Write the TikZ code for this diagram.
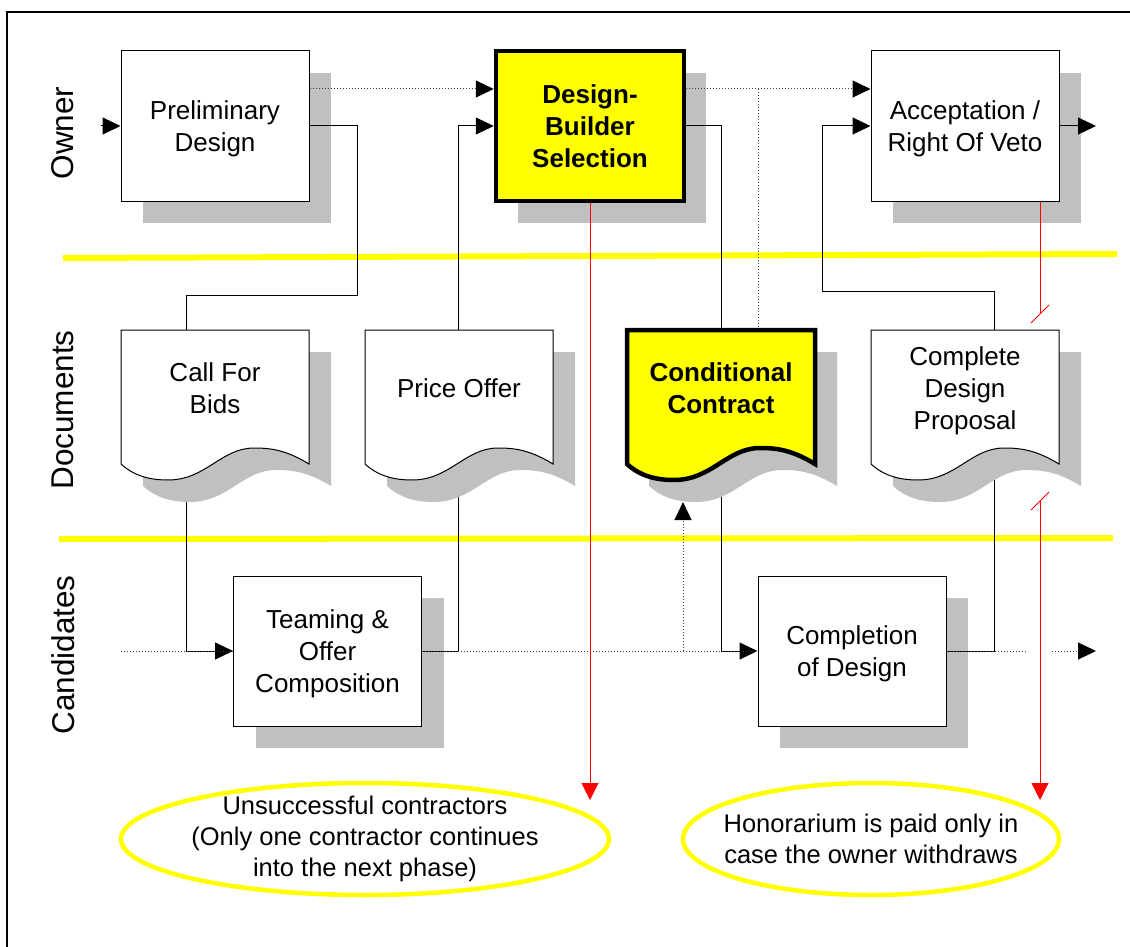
\documentclass[tikz,border=0pt]{standalone}
\usepackage{fontspec}
\setmainfont{Liberation Sans}
\usetikzlibrary{arrows.meta,shapes.geometric,calc}

\definecolor{shadegray}{RGB}{192,192,192}
\definecolor{hiyellow}{RGB}{255,255,0}

\pgfdeclarelayer{lanes}
\pgfdeclarelayer{shade}
\pgfdeclarelayer{docs}
\pgfdeclarelayer{front}
\pgfsetlayers{lanes,shade,main,docs,front}

\newcommand\boxfont{\fontsize{26}{32}\selectfont}

\tikzset{
  box/.style={draw=black, fill=white, line width=1pt, minimum width=188pt,
    minimum height=150pt, inner sep=0pt, align=center, font=\boxfont,
    text depth=0pt},
  keybox/.style={box, fill=hiyellow, line width=4.5pt, font=\boxfont\bfseries},
  doctext/.style={inner sep=0pt, outer sep=0pt, minimum width=188pt,
    minimum height=116pt, align=center, font=\boxfont, text depth=0pt},
  docline/.style={draw=black, fill=white, line width=1pt},
  keydoc/.style={draw=black, fill=hiyellow, line width=4.5pt},
  flow/.style={draw=black, line width=1pt},
  maybe/.style={draw=black!75, line width=1pt, dash pattern=on 1pt off 2pt},
  tip/.style={-{Triangle[length=18pt,width=17pt,color=black]}},
  note/.style={draw=red, line width=1pt, -{Triangle[length=17pt,width=17pt,color=red]}},
  lane/.style={draw=hiyellow, line width=6pt},
  lanelabel/.style={rotate=90, font=\fontsize{31.5}{31.5}\selectfont},
  remark/.style={ellipse, draw=hiyellow, line width=4.5pt, inner sep=0pt},
  remarktext/.style={align=center, font=\fontsize{25.5}{31}\selectfont, inner sep=0pt},
}

% grey offset shadow behind a process box
\newcommand\boxshade[1]{%
  \fill[shadegray] ($(#1.center)+(-72,-53)$) rectangle ($(#1.center)+(116,97)$);}

% document symbol (wavy lower edge) with its shadow, placed from the text node
\newcommand\docoutline[2]{%
  \fill[shadegray, shift={(#1.north west)}, xshift=22pt, yshift=-22pt]
    (0,0) -- (188,0) -- (188,134)
    .. controls (165,120) and (150,118) .. (133,118)
    .. controls (100,118) and (85,150) .. (47,150)
    .. controls (27,150) and (12,145) .. (0,134) -- cycle;
  \path[#2, shift={(#1.north west)}]
    (0,0) -- (188,0) -- (188,134)
    .. controls (165,120) and (150,118) .. (133,118)
    .. controls (100,118) and (85,150) .. (47,150)
    .. controls (27,150) and (12,145) .. (0,134) -- cycle;}

\begin{document}
\begin{tikzpicture}[x=1pt, y=-1pt]
\useasboundingbox (0,0) rectangle (1130,947);

% frame and swim-lane separators
\begin{pgfonlayer}{lanes}
  \draw[line width=2.2pt] (7,965) -- (7,12) -- (1145,12);
  \draw[lane] (63,258) -- (1117,254);
  \draw[lane] (59,539) -- (1113,538);
\end{pgfonlayer}

% lane titles
\node[lanelabel] (owner) at (63,133) {Owner};
\node[lanelabel] (documents) at (63,410) {Documents};
\node[lanelabel] (candidates) at (63,655) {Candidates};

% process boxes and document texts
\begin{pgfonlayer}{front}
  \node[box] (pd) at (215,126) {Preliminary\\Design};
  \node[keybox] (dbs) at (590,126) {Design-\\Builder\\Selection};
  \node[box] (acc) at (965,126) {Acceptation /\\Right Of Veto};
  \node[box] (team) at (327.5,651) {Teaming \&\\Offer\\Composition};
  \node[box] (comp) at (852,651) {Completion\\of Design};

  \node[doctext] (cfb) at (215,388) {Call For\\Bids};
  \node[doctext] (po) at (459,388) {Price Offer};
  \node[doctext, font=\boxfont\bfseries] (cc) at (721,388) {Conditional\\Contract};
  \node[doctext] (cdp) at (965,388) {Complete\\Design\\Proposal};
\end{pgfonlayer}

% box shadows
\begin{pgfonlayer}{shade}
  \boxshade{pd}
  \boxshade{dbs}
  \boxshade{acc}
  \boxshade{team}
  \boxshade{comp}
\end{pgfonlayer}

% document symbols
\begin{pgfonlayer}{docs}
  \docoutline{cfb}{docline}
  \docoutline{po}{docline}
  \docoutline{cc}{keydoc}
  \docoutline{cdp}{docline}
\end{pgfonlayer}

% owner lane flow
\coordinate (pdin) at (101,126);
\draw[flow,tip] (pdin) -- (pd.west);
\draw[maybe,tip] ([yshift=37pt]pd.east) -- ([yshift=37pt]dbs.west);
\draw[flow] (pd.east) -- ++(48,0) -- ++(0,169) -| ([xshift=-29pt]cfb.north);
\draw[flow,tip] ([xshift=-29pt]cfb.south) |- (team.west);
\draw[flow] (team.east) -| ([xshift=-1pt]po.south);
\draw[flow,tip] ([xshift=-1pt]po.north) |- (dbs.west);
\draw[flow] (dbs.east) -| (cc.north);
\draw[flow,tip] (cc.south) |- (comp.west);
\draw[maybe,tip] ([yshift=37pt]dbs.east) -- ([yshift=37pt]acc.west);
\coordinate (ccjoin) at (758.5,89);
\draw[maybe] ([xshift=37.5pt]cc.north) -- (ccjoin);
\coordinate (ccup) at (683,651);
\draw[maybe,tip] (ccup) -- ([shift={(-38pt,-56pt)}]cc.south);
\draw[flow] (comp.east) -| ([xshift=29pt]cdp.south);
\draw[flow,tip] ([xshift=29pt]cdp.north) -- ++(0,-39) -| ([xshift=-48pt]acc.west) -- (acc.west);
\coordinate (accout) at (1096,126);
\draw[flow,tip] (acc.east) -- (accout);

% candidates lane timeline
\coordinate (candin) at (121,651);
\draw[maybe] (candin) -- (team.west);
\draw[maybe] (team.east) -- (comp.west);
\coordinate (candgapL) at (1027,651);
\coordinate (candgapR) at (1052,651);
\coordinate (candout) at (1096,651);
\draw[maybe] (comp.east) -- (candgapL);
\draw[maybe,tip] (candgapR) -- (candout);

% remarks
\node[remark, minimum width=488pt, minimum height=112pt] (miss) at (365,839) {};
\node[remarktext] (misstext) at (miss) {Unsuccessful contractors\\(Only one contractor continues\\into the next phase)};
\node[remark, minimum width=376pt, minimum height=112pt] (fee) at (871,839) {};
\node[remarktext] (feetext) at (fee) {Honorarium is paid only in\\case the owner withdraws};

% red annotation arrows
\coordinate (redA) at (590,800);
\draw[note] (dbs.south) -- (redA);
\coordinate (brkA) at (1040,314);
\coordinate (brkB) at (1040,501);
\coordinate (redB) at (1040,800);
\draw[red, line width=1pt] ([xshift=75pt]acc.south) -- (brkA);
\draw[red, line width=1pt] (1031,323) -- (1049,305) (1031,510) -- (1049,492);
\draw[note] (brkB) -- (redB);
\end{tikzpicture}
\end{document}
